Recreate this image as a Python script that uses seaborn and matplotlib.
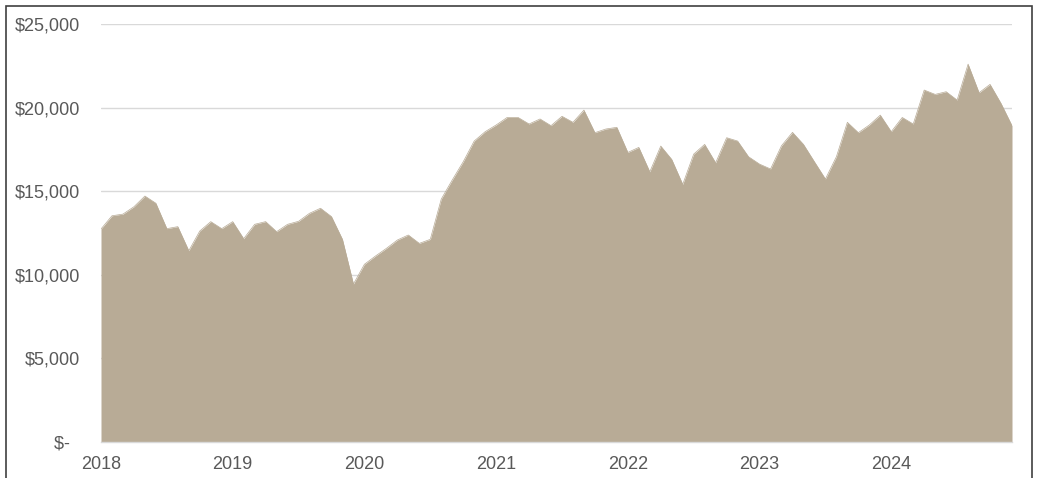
import numpy as np
import pandas as pd
import matplotlib
matplotlib.use("Agg")
import matplotlib.pyplot as plt
import seaborn as sns
from matplotlib.patches import Rectangle

# monthly values, Jan 2018 .. Dec 2024
values_2018 = [12740, 13530, 13630, 14070, 14710, 14280, 12760, 12880, 11440, 12620, 13180, 12760]
values_2019 = [13180, 12160, 13020, 13180, 12580, 13020, 13200, 13680, 13980, 13480, 12120, 9450]
values_2020 = [10630, 11120, 11580, 12080, 12380, 11880, 12120, 14530, 15670, 16760, 18000, 18560]
values_2021 = [18960, 19410, 19410, 19020, 19320, 18920, 19480, 19120, 19850, 18500, 18720, 18820]
values_2022 = [17320, 17620, 16160, 17700, 16900, 15410, 17220, 17800, 16700, 18200, 18000, 17060]
values_2023 = [16620, 16330, 17720, 18520, 17800, 16760, 15730, 17060, 19120, 18500, 18960, 19550]
values_2024 = [18560, 19410, 19020, 21050, 20790, 20950, 20450, 22600, 20890, 21390, 20250, 18920]

years = [2018, 2019, 2020, 2021, 2022, 2023, 2024]
y_ticks = [0, 5000, 10000, 15000, 20000, 25000]
y_labels = ["$-  ", "$5,000", "$10,000", "$15,000", "$20,000", "$25,000"]

values = (values_2018 + values_2019 + values_2020 + values_2021
          + values_2022 + values_2023 + values_2024)
df = pd.DataFrame({"month": np.arange(len(values)), "value": values})

sns.set_style("white")
plt.rcParams["font.family"] = ["Liberation Sans", "DejaVu Sans"]

fill_color = "#b8ab96"
grid_color = "#d9d9d9"
text_color = "#595959"

fig = plt.figure(figsize=(10.37, 4.78), dpi=100)
ax = fig.add_axes([101 / 1037, 1 - 442 / 478, 911 / 1037, 418 / 478])

sns.lineplot(data=df, x="month", y="value", color=fill_color, linewidth=0.5, ax=ax, zorder=3)
ax.fill_between(df["month"], df["value"], 0, color=fill_color, linewidth=0, zorder=3)

ax.set_xlim(0, len(values) - 1)
ax.set_ylim(0, 25000)
ax.set_xticks([12 * i for i in range(len(years))])
ax.set_xticklabels([str(y) for y in years])
ax.set_yticks(y_ticks)
ax.set_yticklabels(y_labels)
ax.set_xlabel("")
ax.set_ylabel("")

ax.yaxis.grid(True, color=grid_color, linewidth=1, zorder=0)
ax.set_axisbelow(True)
for side in ["left", "right", "top"]:
    ax.spines[side].set_visible(False)
ax.spines["bottom"].set_color(grid_color)
ax.spines["bottom"].set_linewidth(1)
ax.spines["bottom"].set_zorder(4)

ax.tick_params(axis="y", length=0, pad=15, labelsize=13, labelcolor=text_color)
ax.tick_params(axis="x", length=5, width=1, color=grid_color, pad=5,
               labelsize=13, labelcolor=text_color)

# outer frame (bottom edge falls outside the image)
fig.patches.append(Rectangle((6 / 1037, -0.05), 1026 / 1037, 1.05 - 6 / 478,
                             transform=fig.transFigure, fill=False,
                             edgecolor="#404040", linewidth=1.2))

fig.savefig("out.png", dpi=100)
